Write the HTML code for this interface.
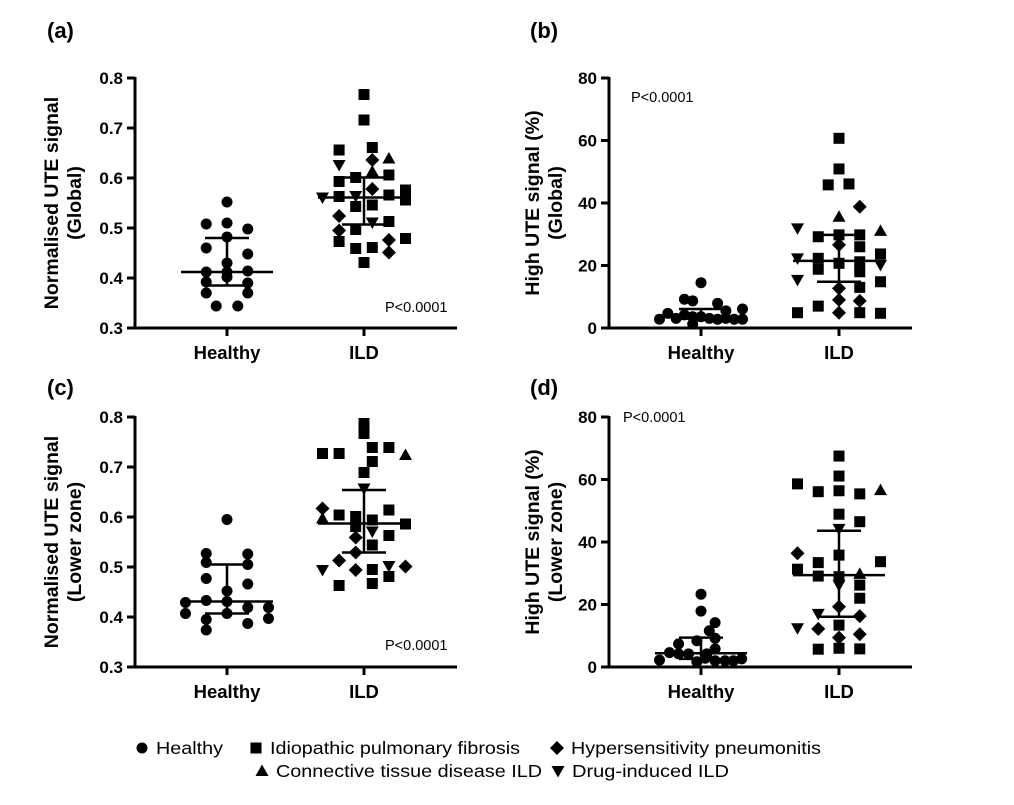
<!DOCTYPE html>
<html><head><meta charset="utf-8"><style>
body{margin:0;background:#fff;}
svg{display:block;font-family:"Liberation Sans",Arial,sans-serif;}
</style></head><body>
<svg id="fig" width="1014" height="805" viewBox="0 0 1014 805"></svg>
<script>
// shape codes: c=healthy circle, s=IPF square, d=HP diamond, t=CTD triangle, v=drug-induced triangle down
// ---- Panel (a) ----
const aHealthyVals=[0.552,0.508,0.51,0.498,0.482,0.46,0.448,0.43,0.412,0.412,0.414,0.392,0.402,0.39,0.37,0.37,0.344,0.344];
const aHealthyCols=[0,-2.5,0,2.5,0,-2.5,2.5,0,-2.5,0,2.5,-2.5,0,2.5,-2.5,2.5,-1.3,1.3];
const aIldVals=[0.767,0.716,0.656,0.661,0.626,0.636,0.639,0.593,0.601,0.613,0.606,0.561,0.563,0.564,0.578,0.566,0.576,0.556,0.543,0.546,0.524,0.497,0.511,0.513,0.495,0.473,0.459,0.461,0.476,0.479,0.451,0.431];
const aIldCols=[0,0,-3,1,-3,1,3,-3,-1,1,3,-5,-3,-1,1,3,5,5,-1,1,-3,-1,1,3,-3,-3,-1,1,3,5,3,0];
const aIldShapes=['s','s','s','s','v','d','t','s','s','t','s','v','s','v','d','s','s','s','s','s','d','s','v','s','d','s','s','s','d','s','d','s'];
const aHealthyStats=[0.412,0.48,0.385];
const aIldStats=[0.561,0.601,0.507];
// ---- Panel (b) ----
const bHealthyVals=[14.5,9.2,8.7,7.9,4.7,5.5,6.1,2.8,3.1,4.2,3.6,3.6,3.1,2.8,3.1,2.8,2.8,1.3];
const bHealthyCols=[0,-2,-1,2,-4,3,5,-5,-3,-2,-1,0,1,2,3,4,5,-1];
const bIldVals=[60.7,50.9,45.8,46.1,38.8,35.6,31.9,31.1,29.2,29.8,29.8,26.6,26.0,23.7,22.3,22.3,20.7,21.2,20.2,18.8,18.0,15.4,14.8,12.7,13.0,9.0,8.7,7.0,4.9,4.9,4.9,4.7];
const bIldCols=[0,0,-1.3,1.2,2.5,0,-5,5,-2.5,0,2.5,0,2.5,5,-5,-2.5,0,2.5,5,-2.5,2.5,-5,5,0,2.5,0,2.5,-2.5,-5,0,2.5,5];
const bIldShapes=['s','s','s','s','d','t','v','t','s','s','s','d','s','s','v','s','s','s','v','s','s','v','s','d','s','d','d','s','s','d','s','s'];
const bHealthyStats=[3.6,6.1,3.0];
const bIldStats=[21.5,29.8,14.8];
// ---- Panel (c) ----
const cHealthyVals=[0.595,0.527,0.509,0.526,0.505,0.477,0.466,0.452,0.429,0.433,0.431,0.407,0.395,0.374,0.407,0.419,0.387,0.419,0.397];
const cHealthyCols=[0,-2.5,-2.5,2.5,2.5,-2.5,2.5,0,-5,-2.5,0,-5,-2.5,-2.5,0,2.5,2.5,5,5];
const cIldVals=[0.787,0.767,0.727,0.727,0.739,0.739,0.724,0.711,0.689,0.657,0.617,0.597,0.604,0.601,0.581,0.594,0.614,0.586,0.571,0.563,0.559,0.544,0.529,0.513,0.494,0.494,0.495,0.502,0.481,0.501,0.463,0.467];
const cIldCols=[0,0,-5,-3,1,3,5,1,0,0,-5,-5,-3,-1,-1,1,3,5,1,3,-1,1,-1,-3,-5,-1,1,3,3,5,-3,1];
const cIldShapes=['s','s','s','s','s','s','t','s','s','v','d','t','s','s','s','s','s','s','v','s','d','s','d','d','v','d','s','v','s','d','s','s'];
const cHealthyStats=[0.431,0.505,0.407];
const cIldStats=[0.587,0.654,0.529];
// ---- Panel (d) ----
const dHealthyVals=[23.3,17.9,14.2,11.6,8.4,9.2,7.4,5.8,4.6,4.2,4.2,4.2,2.2,1.7,2.8,2.0,2.0,2.0,2.6];
const dHealthyCols=[0,0,1.7,1,-0.5,1.7,-2.7,1.7,-3.8,-2.7,-1.5,0.7,-5,-0.5,0.5,1.7,2.9,3.9,4.9];
const dIldVals=[67.5,61.1,58.6,56.1,56.4,55.4,56.6,48.9,46.5,44.2,36.4,35.8,33.7,31.3,33.4,29.1,28.9,29.8,26.2,26.2,22.0,19.3,17.0,16.3,13.4,12.4,12.2,9.4,10.5,5.7,6.0,5.8];
const dIldCols=[0,0,-5,-2.5,0,2.5,5,0,2.5,0,-5,0,5,-5,-2.5,-2.5,0,2.5,0,2.5,2.5,0,-2.5,2.5,0,-5,-2.5,0,2.5,-2.5,0,2.5];
const dIldShapes=['s','s','s','s','s','s','t','s','s','v','d','s','s','s','s','s','s','t','v','s','s','d','v','d','s','v','d','d','d','s','s','s'];
const dHealthyStats=[4.4,9.4,2.6];
const dIldStats=[29.4,43.6,16.1];

const NS="http://www.w3.org/2000/svg";
const svg=document.getElementById('fig');
function el(tag,attrs,parent,txt){const e=document.createElementNS(NS,tag);for(const k in attrs)e.setAttribute(k,attrs[k]);if(txt!==undefined)e.textContent=txt;(parent||svg).appendChild(e);return e;}

function marker(g,shape,x,y){
  let m;
  if(shape==='c'){m=el('circle',{cx:x,cy:y,r:5.5,fill:'#000'},g);}
  else if(shape==='s'){m=el('rect',{x:x-5.5,y:y-5.5,width:11,height:11,fill:'#000'},g);}
  else if(shape==='d'){m=el('polygon',{points:`${x},${y-7} ${x+7},${y} ${x},${y+7} ${x-7},${y}`,fill:'#000'},g);}
  else if(shape==='t'){m=el('polygon',{points:`${x},${y-6.5} ${x+6.5},${y+5} ${x-6.5},${y+5}`,fill:'#000'},g);}
  else {m=el('polygon',{points:`${x},${y+6.5} ${x+6.5},${y-5} ${x-6.5},${y-5}`,fill:'#000'},g);}
  
  
}

function panel(o){
  const g=el('g',{});
  
  
  const y=v=>o.y0-(v-o.min)/(o.max-o.min)*(o.y0-o.y1);
  const colW=8.3;
  const t=el('text',{x:o.lx,y:o.ly,'font-size':22,'font-weight':'bold'},g,'('+o.id+')');
   
  el('line',{x1:o.ax,y1:o.y1-1,x2:o.ax,y2:o.y0+1.5,stroke:'#000','stroke-width':3},g);
  el('line',{x1:o.ax-1.5,y1:o.y0,x2:o.axEnd,y2:o.y0,stroke:'#000','stroke-width':3},g);
  o.ticks.forEach(tv=>{
    const yy=y(tv);
    el('line',{x1:o.ax-8,y1:yy,x2:o.ax,y2:yy,stroke:'#000','stroke-width':3},g);
    const tt=el('text',{x:o.ax-12,y:yy+6,'font-size':17,'font-weight':'bold','text-anchor':'end'},g,o.fmt(tv));
     
  });
  [[o.hx,'Healthy'],[o.ix,'ILD']].forEach(([cx,lab])=>{
    el('line',{x1:cx,y1:o.y0,x2:cx,y2:o.y0+8,stroke:'#000','stroke-width':3},g);
    const tt=el('text',{x:cx,y:o.y0+31,'font-size':18.5,'font-weight':'bold','text-anchor':'middle'},g,lab);
     
  });
  const yt=el('text',{transform:`translate(${o.tx},${(o.y0+o.y1)/2}) rotate(-90)`,'font-size':19.5,'font-weight':'bold','text-anchor':'middle'},g);
   
  el('tspan',{x:0,dy:0},yt,o.title1); el('tspan',{x:0,dy:23},yt,o.title2);
  const p=el('text',{x:o.px,y:o.py,'font-size':14.5},g,'P<0.0001');
   
  o.hv.forEach((v,i)=>marker(g,'c',o.hx+o.hc[i]*colW,y(v)));
  o.iv.forEach((v,i)=>marker(g,o.is[i],o.ix+o.ic[i]*colW,y(v)));
  [[o.hx,o.hs],[o.ix,o.istat]].forEach(([cx,s])=>{
    const sg=el('g',{stroke:'#000','stroke-width':2.5},g);
     
    el('line',{x1:cx-46,y1:y(s[0]),x2:cx+46,y2:y(s[0])},sg);
    el('line',{x1:cx,y1:y(s[1]),x2:cx,y2:y(s[2])},sg);
    el('line',{x1:cx-22,y1:y(s[1]),x2:cx+22,y2:y(s[1])},sg);
    el('line',{x1:cx-22,y1:y(s[2]),x2:cx+22,y2:y(s[2])},sg);
  });
}
const f1=v=>v.toFixed(1), f0=v=>String(v);
panel({id:'a',lx:47,ly:38,ax:135,axEnd:457,y0:328,y1:78,min:0.3,max:0.8,ticks:[0.3,0.4,0.5,0.6,0.7,0.8],fmt:f1,hx:227,ix:364,tx:58,title1:'Normalised UTE signal',title2:'(Global)',px:385,py:312,hv:aHealthyVals,hc:aHealthyCols,iv:aIldVals,ic:aIldCols,is:aIldShapes,hs:aHealthyStats,istat:aIldStats});
panel({id:'b',lx:530,ly:38,ax:609,axEnd:912,y0:328,y1:78,min:0,max:80,ticks:[0,20,40,60,80],fmt:f0,hx:701,ix:839,tx:539,title1:'High UTE signal (%)',title2:'(Global)',px:631,py:102,hv:bHealthyVals,hc:bHealthyCols,iv:bIldVals,ic:bIldCols,is:bIldShapes,hs:bHealthyStats,istat:bIldStats});
panel({id:'c',lx:47,ly:395,ax:135,axEnd:457,y0:667,y1:417,min:0.3,max:0.8,ticks:[0.3,0.4,0.5,0.6,0.7,0.8],fmt:f1,hx:227,ix:364,tx:58,title1:'Normalised UTE signal',title2:'(Lower zone)',px:385,py:650,hv:cHealthyVals,hc:cHealthyCols,iv:cIldVals,ic:cIldCols,is:cIldShapes,hs:cHealthyStats,istat:cIldStats});
panel({id:'d',lx:530,ly:395,ax:609,axEnd:912,y0:667,y1:417,min:0,max:80,ticks:[0,20,40,60,80],fmt:f0,hx:701,ix:839,tx:539,title1:'High UTE signal (%)',title2:'(Lower zone)',px:623,py:422,hv:dHealthyVals,hc:dHealthyCols,iv:dIldVals,ic:dIldCols,is:dIldShapes,hs:dHealthyStats,istat:dIldStats});

// legend
const lg=el('g',{});


const legendItems=[['c',142,748,'Healthy',67],['s',256,748,'Idiopathic pulmonary fibrosis',250],['d',557,748,'Hypersensitivity pneumonitis',250],['t',262,771,'Connective tissue disease ILD',266],['v',558,771,'Drug-induced ILD',157]];
legendItems.forEach(([sh,x,yy,lab,w])=>{
  const it=el('g',{},lg);
  
  
  marker(it,sh,x,yy);
  el('text',{x:x+14,y:yy+6,'font-size':17.5,textLength:w,lengthAdjust:'spacingAndGlyphs'},it,lab);
});
</script>
</body></html>
